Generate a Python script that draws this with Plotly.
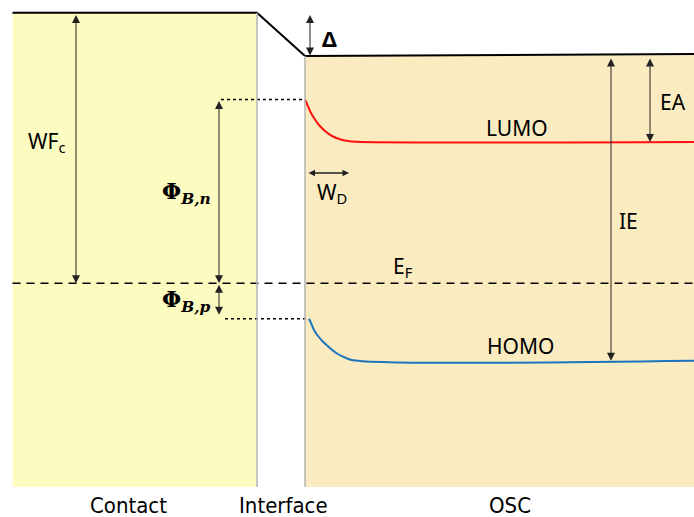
import plotly.graph_objects as go

# ---- data (energy-diagram levels, in screen units, y grows downward) ----
region_names = ["Contact", "Interface", "OSC"]
vacuum_x = [12.5, 257, 305, 694]
vacuum_y = [12.7, 12.7, 56, 54]
fermi_level = 283.3
lumo_x = [305, 307, 310, 314, 319, 325, 332, 340, 348, 356, 694]
lumo_y = [99.5, 104, 111, 118, 125, 131, 136, 139.3, 141, 141.7, 141.9]
homo_x = [309, 311, 314, 318, 323, 330, 337, 345, 353, 694]
homo_y = [318.7, 323, 330, 336, 341.7, 348, 353.5, 357.5, 360.2, 360.8]

fig = go.Figure()

# region boxes
fig.add_shape(type="rect", x0=12.5, x1=257, y0=12.7, y1=487, fillcolor="#FCFBC0",
              line=dict(width=0), layer="below")
fig.add_shape(type="rect", x0=305, x1=694, y0=55, y1=487, fillcolor="#FBEBC0",
              line=dict(width=0), layer="below")
fig.add_shape(type="line", x0=257, x1=257, y0=12.7, y1=487, line=dict(color="#B4B4B4", width=1.5))
fig.add_shape(type="line", x0=305, x1=305, y0=56, y1=487, line=dict(color="#B4B4B4", width=1.5))

# vacuum level
fig.add_trace(go.Scatter(x=vacuum_x, y=vacuum_y, mode="lines",
                         line=dict(color="black", width=2), hoverinfo="skip"))
# Fermi level
fig.add_trace(go.Scatter(x=[12.5, 694], y=[fermi_level, fermi_level], mode="lines",
                         line=dict(color="black", width=1.5, dash="8px,6px"), hoverinfo="skip"))
# LUMO / HOMO
fig.add_trace(go.Scatter(x=lumo_x, y=lumo_y, mode="lines", line=dict(color="#FF1010", width=2),
                         line_shape="spline", hoverinfo="skip"))
fig.add_trace(go.Scatter(x=homo_x, y=homo_y, mode="lines", line=dict(color="#1E73BE", width=2),
                         line_shape="spline", hoverinfo="skip"))
# dotted barrier guides
fig.add_trace(go.Scatter(x=[221, lumo_x[0]], y=[lumo_y[0], lumo_y[0]], mode="lines",
                         line=dict(color="black", width=1.5, dash="dot"), hoverinfo="skip"))
fig.add_trace(go.Scatter(x=[225, homo_x[0]], y=[homo_y[0], homo_y[0]], mode="lines",
                         line=dict(color="black", width=1.5, dash="dot"), hoverinfo="skip"))

def arrow(x0, y0, x1, y1, both=True, w=1):
    fig.add_annotation(x=x1, y=y1, ax=x0, ay=y0, xref="x", yref="y", axref="x", ayref="y",
                       showarrow=True, arrowhead=2, arrowsize=1.6 if w == 1 else 1.0,
                       arrowwidth=w, arrowcolor="#222", arrowside="end+start" if both else "end",
                       text="", standoff=0, startstandoff=0)

arrow(76, 13.5, 76, fermi_level)          # WFc
arrow(219, lumo_y[0], 219, fermi_level)   # Phi B,n
arrow(219, fermi_level, 219, homo_y[0] - 4)   # Phi B,p
arrow(310, 13.5, 310, 55.5)               # Delta
arrow(611, 57, 611, homo_y[-1])           # IE
arrow(650, 57, 650, lumo_y[-1])           # EA
arrow(307, 173, 349, 173, w=1.3)          # W_D

F = "Noto Sans, Open Sans, sans-serif"
def label(x, y, t, size=20, font=F):
    fig.add_annotation(x=x, y=y, xref="x", yref="y", text=t, showarrow=False,
                       font=dict(family=font, size=size, color="black"))

label(47, 142, "WF<sub>c</sub>", size=21)
label(329, 38, "<b>Δ</b>", size=22)
label(186, 193, "<b>Φ</b><sub><b><i>B,n</i></b></sub>", size=22, font="DejaVu Serif, serif")
label(186, 301, "<b>Φ</b><sub><b><i>B,p</i></b></sub>", size=22, font="DejaVu Serif, serif")
label(517, 128, "LUMO", size=21)
label(520, 346, "HOMO", size=21)
label(403, 267, "E<sub>F</sub>", size=21)
label(628, 221, "IE", size=21)
label(673, 102, "EA", size=21)
label(332, 193, "W<sub>D</sub>", size=21)
BF = "DejaVu Sans Condensed, Liberation Sans Narrow, sans-serif"
label(128, 505, region_names[0], size=22, font=BF)
label(283, 505, region_names[1], size=22, font=BF)
label(510, 505, region_names[2], size=22, font=BF)

fig.update_layout(width=694, height=517, margin=dict(l=0, r=0, t=0, b=0),
                  plot_bgcolor="white", paper_bgcolor="white", showlegend=False,
                  xaxis=dict(range=[0, 694], visible=False, fixedrange=True),
                  yaxis=dict(range=[517, 0], visible=False, fixedrange=True))
fig.write_html("out.html", config={"displayModeBar": False},
               post_script="document.body.style.margin='0';document.body.style.overflow='hidden';")
